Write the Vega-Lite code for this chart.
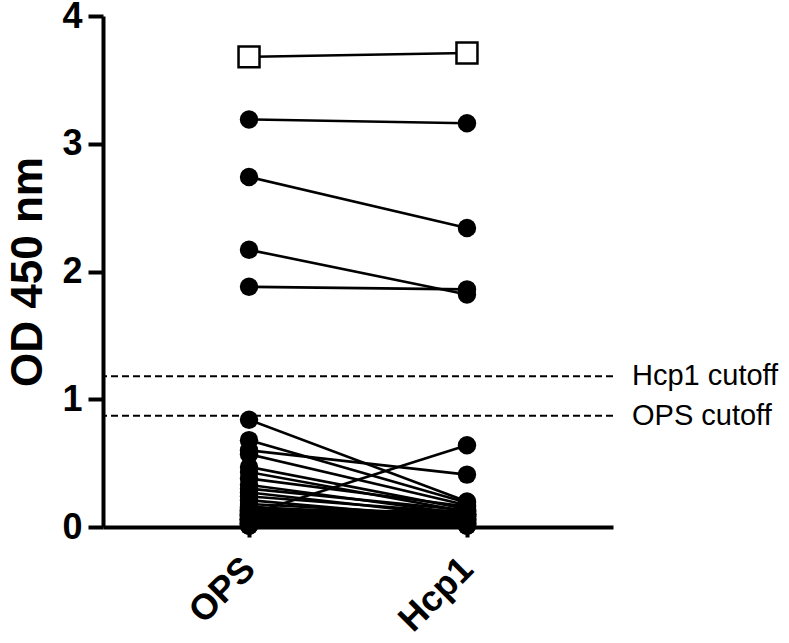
{
  "$schema": "https://vega.github.io/schema/vega-lite/v6.json",
  "width": 510,
  "height": 511,
  "autosize": {"type": "none"},
  "padding": {"left": 103, "top": 16, "right": 176, "bottom": 116},
  "background": "white",
  "config": {
    "font": "Liberation Sans",
    "view": {"stroke": null},
    "axis": {
      "domainColor": "black",
      "domainWidth": 4,
      "tickColor": "black",
      "tickWidth": 4,
      "labelColor": "black",
      "titleColor": "black",
      "grid": false,
      "labelFont": "Liberation Sans",
      "titleFont": "Liberation Sans",
      "labelFontWeight": "bold",
      "titleFontWeight": "bold"
    }
  },
  "datasets": {
    "pairs": [
      {"id": 1, "antigen": "OPS", "od": 3.68, "sym": "square"},
      {"id": 1, "antigen": "Hcp1", "od": 3.71, "sym": "square"},
      {"id": 2, "antigen": "OPS", "od": 3.19, "sym": "circle"},
      {"id": 2, "antigen": "Hcp1", "od": 3.16, "sym": "circle"},
      {"id": 3, "antigen": "OPS", "od": 2.74, "sym": "circle"},
      {"id": 3, "antigen": "Hcp1", "od": 2.34, "sym": "circle"},
      {"id": 4, "antigen": "OPS", "od": 2.17, "sym": "circle"},
      {"id": 4, "antigen": "Hcp1", "od": 1.82, "sym": "circle"},
      {"id": 5, "antigen": "OPS", "od": 1.88, "sym": "circle"},
      {"id": 5, "antigen": "Hcp1", "od": 1.86, "sym": "circle"},
      {"id": 6, "antigen": "OPS", "od": 0.84, "sym": "circle"},
      {"id": 6, "antigen": "Hcp1", "od": 0.2, "sym": "circle"},
      {"id": 7, "antigen": "OPS", "od": 0.68, "sym": "circle"},
      {"id": 7, "antigen": "Hcp1", "od": 0.19, "sym": "circle"},
      {"id": 8, "antigen": "OPS", "od": 0.6, "sym": "circle"},
      {"id": 8, "antigen": "Hcp1", "od": 0.41, "sym": "circle"},
      {"id": 9, "antigen": "OPS", "od": 0.57, "sym": "circle"},
      {"id": 9, "antigen": "Hcp1", "od": 0.17, "sym": "circle"},
      {"id": 10, "antigen": "OPS", "od": 0.47, "sym": "circle"},
      {"id": 10, "antigen": "Hcp1", "od": 0.14, "sym": "circle"},
      {"id": 11, "antigen": "OPS", "od": 0.43, "sym": "circle"},
      {"id": 11, "antigen": "Hcp1", "od": 0.12, "sym": "circle"},
      {"id": 12, "antigen": "OPS", "od": 0.38, "sym": "circle"},
      {"id": 12, "antigen": "Hcp1", "od": 0.16, "sym": "circle"},
      {"id": 13, "antigen": "OPS", "od": 0.33, "sym": "circle"},
      {"id": 13, "antigen": "Hcp1", "od": 0.1, "sym": "circle"},
      {"id": 14, "antigen": "OPS", "od": 0.3, "sym": "circle"},
      {"id": 14, "antigen": "Hcp1", "od": 0.13, "sym": "circle"},
      {"id": 15, "antigen": "OPS", "od": 0.27, "sym": "circle"},
      {"id": 15, "antigen": "Hcp1", "od": 0.08, "sym": "circle"},
      {"id": 16, "antigen": "OPS", "od": 0.24, "sym": "circle"},
      {"id": 16, "antigen": "Hcp1", "od": 0.11, "sym": "circle"},
      {"id": 17, "antigen": "OPS", "od": 0.21, "sym": "circle"},
      {"id": 17, "antigen": "Hcp1", "od": 0.06, "sym": "circle"},
      {"id": 18, "antigen": "OPS", "od": 0.18, "sym": "circle"},
      {"id": 18, "antigen": "Hcp1", "od": 0.09, "sym": "circle"},
      {"id": 19, "antigen": "OPS", "od": 0.16, "sym": "circle"},
      {"id": 19, "antigen": "Hcp1", "od": 0.05, "sym": "circle"},
      {"id": 20, "antigen": "OPS", "od": 0.1, "sym": "circle"},
      {"id": 20, "antigen": "Hcp1", "od": 0.64, "sym": "circle"},
      {"id": 21, "antigen": "OPS", "od": 0.14, "sym": "circle"},
      {"id": 21, "antigen": "Hcp1", "od": 0.07, "sym": "circle"},
      {"id": 22, "antigen": "OPS", "od": 0.12, "sym": "circle"},
      {"id": 22, "antigen": "Hcp1", "od": 0.04, "sym": "circle"},
      {"id": 23, "antigen": "OPS", "od": 0.11, "sym": "circle"},
      {"id": 23, "antigen": "Hcp1", "od": 0.1, "sym": "circle"},
      {"id": 24, "antigen": "OPS", "od": 0.1, "sym": "circle"},
      {"id": 24, "antigen": "Hcp1", "od": 0.06, "sym": "circle"},
      {"id": 25, "antigen": "OPS", "od": 0.09, "sym": "circle"},
      {"id": 25, "antigen": "Hcp1", "od": 0.03, "sym": "circle"},
      {"id": 26, "antigen": "OPS", "od": 0.08, "sym": "circle"},
      {"id": 26, "antigen": "Hcp1", "od": 0.08, "sym": "circle"},
      {"id": 27, "antigen": "OPS", "od": 0.07, "sym": "circle"},
      {"id": 27, "antigen": "Hcp1", "od": 0.05, "sym": "circle"},
      {"id": 28, "antigen": "OPS", "od": 0.07, "sym": "circle"},
      {"id": 28, "antigen": "Hcp1", "od": 0.02, "sym": "circle"},
      {"id": 29, "antigen": "OPS", "od": 0.06, "sym": "circle"},
      {"id": 29, "antigen": "Hcp1", "od": 0.07, "sym": "circle"},
      {"id": 30, "antigen": "OPS", "od": 0.05, "sym": "circle"},
      {"id": 30, "antigen": "Hcp1", "od": 0.04, "sym": "circle"},
      {"id": 31, "antigen": "OPS", "od": 0.05, "sym": "circle"},
      {"id": 31, "antigen": "Hcp1", "od": 0.09, "sym": "circle"},
      {"id": 32, "antigen": "OPS", "od": 0.04, "sym": "circle"},
      {"id": 32, "antigen": "Hcp1", "od": 0.03, "sym": "circle"},
      {"id": 33, "antigen": "OPS", "od": 0.04, "sym": "circle"},
      {"id": 33, "antigen": "Hcp1", "od": 0.06, "sym": "circle"},
      {"id": 34, "antigen": "OPS", "od": 0.03, "sym": "circle"},
      {"id": 34, "antigen": "Hcp1", "od": 0.02, "sym": "circle"},
      {"id": 35, "antigen": "OPS", "od": 0.03, "sym": "circle"},
      {"id": 35, "antigen": "Hcp1", "od": 0.05, "sym": "circle"},
      {"id": 36, "antigen": "OPS", "od": 0.02, "sym": "circle"},
      {"id": 36, "antigen": "Hcp1", "od": 0.04, "sym": "circle"},
      {"id": 37, "antigen": "OPS", "od": 0.02, "sym": "circle"},
      {"id": 37, "antigen": "Hcp1", "od": 0.01, "sym": "circle"},
      {"id": 38, "antigen": "OPS", "od": 0.06, "sym": "circle"},
      {"id": 38, "antigen": "Hcp1", "od": 0.12, "sym": "circle"},
      {"id": 39, "antigen": "OPS", "od": 0.09, "sym": "circle"},
      {"id": 39, "antigen": "Hcp1", "od": 0.02, "sym": "circle"},
      {"id": 40, "antigen": "OPS", "od": 0.13, "sym": "circle"},
      {"id": 40, "antigen": "Hcp1", "od": 0.03, "sym": "circle"},
      {"id": 41, "antigen": "OPS", "od": 0.12, "sym": "circle"},
      {"id": 41, "antigen": "Hcp1", "od": 0.11, "sym": "circle"},
      {"id": 42, "antigen": "OPS", "od": 0.11, "sym": "circle"},
      {"id": 42, "antigen": "Hcp1", "od": 0.13, "sym": "circle"},
      {"id": 43, "antigen": "OPS", "od": 0.1, "sym": "circle"},
      {"id": 43, "antigen": "Hcp1", "od": 0.09, "sym": "circle"},
      {"id": 44, "antigen": "OPS", "od": 0.09, "sym": "circle"},
      {"id": 44, "antigen": "Hcp1", "od": 0.1, "sym": "circle"},
      {"id": 45, "antigen": "OPS", "od": 0.08, "sym": "circle"},
      {"id": 45, "antigen": "Hcp1", "od": 0.12, "sym": "circle"},
      {"id": 46, "antigen": "OPS", "od": 0.08, "sym": "circle"},
      {"id": 46, "antigen": "Hcp1", "od": 0.06, "sym": "circle"},
      {"id": 47, "antigen": "OPS", "od": 0.07, "sym": "circle"},
      {"id": 47, "antigen": "Hcp1", "od": 0.08, "sym": "circle"},
      {"id": 48, "antigen": "OPS", "od": 0.06, "sym": "circle"},
      {"id": 48, "antigen": "Hcp1", "od": 0.1, "sym": "circle"},
      {"id": 49, "antigen": "OPS", "od": 0.05, "sym": "circle"},
      {"id": 49, "antigen": "Hcp1", "od": 0.07, "sym": "circle"},
      {"id": 50, "antigen": "OPS", "od": 0.04, "sym": "circle"},
      {"id": 50, "antigen": "Hcp1", "od": 0.05, "sym": "circle"},
      {"id": 51, "antigen": "OPS", "od": 0.03, "sym": "circle"},
      {"id": 51, "antigen": "Hcp1", "od": 0.04, "sym": "circle"},
      {"id": 52, "antigen": "OPS", "od": 0.02, "sym": "circle"},
      {"id": 52, "antigen": "Hcp1", "od": 0.03, "sym": "circle"},
      {"id": 53, "antigen": "OPS", "od": 0.01, "sym": "circle"},
      {"id": 53, "antigen": "Hcp1", "od": 0.02, "sym": "circle"},
      {"id": 54, "antigen": "OPS", "od": 0.01, "sym": "circle"},
      {"id": 54, "antigen": "Hcp1", "od": 0.01, "sym": "circle"},
      {"id": 55, "antigen": "OPS", "od": 0.15, "sym": "circle"},
      {"id": 55, "antigen": "Hcp1", "od": 0.1, "sym": "circle"},
      {"id": 56, "antigen": "OPS", "od": 0.13, "sym": "circle"},
      {"id": 56, "antigen": "Hcp1", "od": 0.08, "sym": "circle"},
      {"id": 57, "antigen": "OPS", "od": 0.11, "sym": "circle"},
      {"id": 57, "antigen": "Hcp1", "od": 0.07, "sym": "circle"},
      {"id": 58, "antigen": "OPS", "od": 0.07, "sym": "circle"},
      {"id": 58, "antigen": "Hcp1", "od": 0.11, "sym": "circle"},
      {"id": 59, "antigen": "OPS", "od": 0.06, "sym": "circle"},
      {"id": 59, "antigen": "Hcp1", "od": 0.09, "sym": "circle"},
      {"id": 60, "antigen": "OPS", "od": 0.04, "sym": "circle"},
      {"id": 60, "antigen": "Hcp1", "od": 0.08, "sym": "circle"}
    ],
    "cutoffs": [
      {"label": "Hcp1 cutoff", "od": 1.18},
      {"label": "OPS cutoff", "od": 0.87}
    ]
  },
  "encoding": {
    "y": {
      "field": "od",
      "type": "quantitative",
      "scale": {"domain": [0, 4], "nice": false, "zero": true},
      "axis": {
        "values": [0, 1, 2, 3, 4],
        "title": "OD 450 nm",
        "titleFontSize": 44,
        "titlePadding": 11,
        "labelFontSize": 36,
        "labelPadding": 6,
        "tickSize": 15
      }
    }
  },
  "layer": [
    {
      "data": {"name": "cutoffs"},
      "mark": {"type": "rule", "strokeDash": [7, 4], "strokeWidth": 2, "color": "black"},
      "encoding": {}
    },
    {
      "data": {"name": "cutoffs"},
      "mark": {"type": "text", "align": "left", "baseline": "middle", "fontSize": 29, "dx": 19, "color": "black", "font": "Liberation Sans"},
      "encoding": {
        "x": {"value": "width"},
        "text": {"field": "label"}
      }
    },
    {
      "data": {"name": "pairs"},
      "mark": {"type": "line", "color": "black", "strokeWidth": 2.6},
      "encoding": {
        "x": {
          "field": "antigen",
          "type": "nominal",
          "scale": {"type": "point", "domain": ["OPS", "Hcp1"], "padding": 0.67},
          "axis": {
            "title": null,
            "labelAngle": -45,
            "labelAlign": "right",
            "labelBaseline": "middle",
            "labelFontSize": 36,
            "labelPadding": 26,
            "tickSize": 10
          }
        },
        "detail": {"field": "id", "type": "nominal"}
      }
    },
    {
      "data": {"name": "pairs"},
      "transform": [{"filter": "datum.sym === 'circle'"}],
      "mark": {"type": "point", "shape": "circle", "filled": true, "color": "black", "size": 340, "opacity": 1},
      "encoding": {
        "x": {"field": "antigen", "type": "nominal"}
      }
    },
    {
      "data": {"name": "pairs"},
      "transform": [{"filter": "datum.sym === 'square'"}],
      "mark": {"type": "point", "shape": "square", "filled": false, "fill": "white", "fillOpacity": 1, "stroke": "black", "strokeWidth": 2.5, "size": 440, "opacity": 1},
      "encoding": {
        "x": {"field": "antigen", "type": "nominal"}
      }
    }
  ]
}
